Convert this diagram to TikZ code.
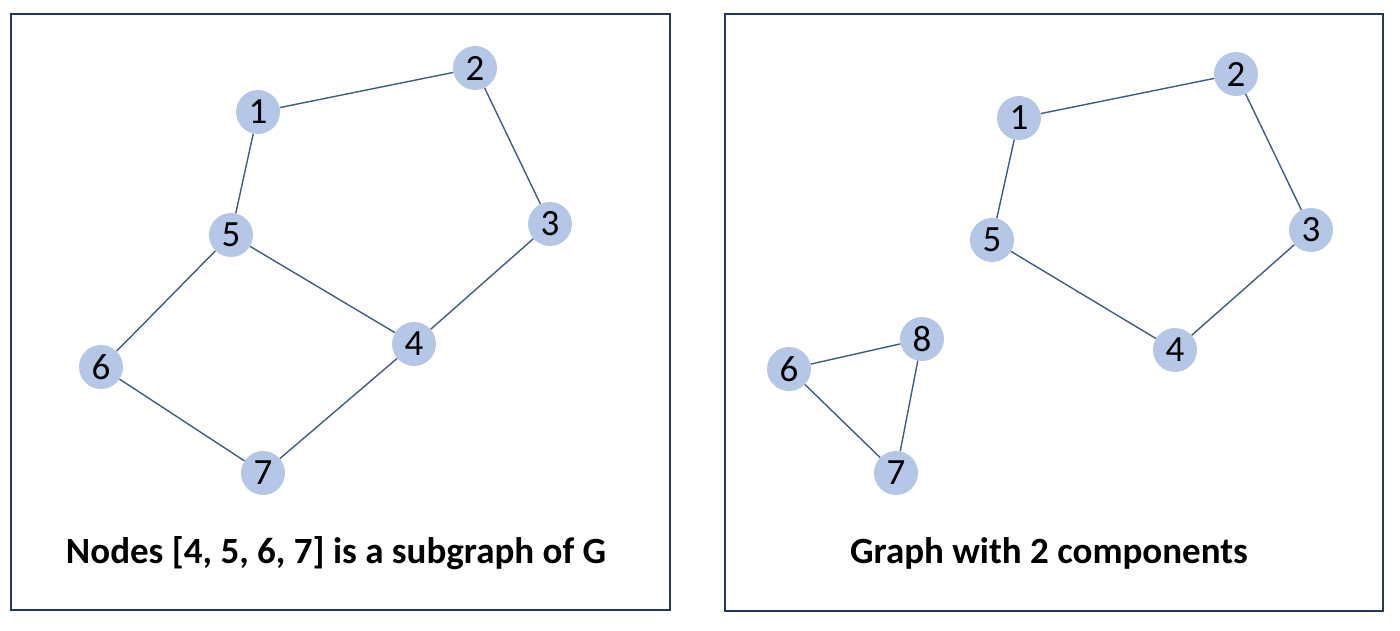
\documentclass[tikz,border=0pt]{standalone}
\usepackage{fontspec}
\setmainfont{Carlito}
\definecolor{navy}{HTML}{1F3864}
\definecolor{edgec}{HTML}{3E5C8A}
\definecolor{nodec}{HTML}{B4C7E7}
\tikzset{
  vert/.style={circle, fill=nodec, minimum size=44pt, inner sep=0pt, font=\fontsize{37}{37}\selectfont},
  frame/.style={draw=navy, line width=2pt},
  edge/.style={draw=edgec, line width=1.4pt},
  caption/.style={font=\fontsize{37}{37}\selectfont\bfseries}
}
\begin{document}
\begin{tikzpicture}[x=1pt,y=-1pt]
\useasboundingbox (0,0) rectangle (1400,631);
\draw[frame] (10.5,14) rectangle (669.5,610);
\draw[frame] (725,14) rectangle (1383,611);
% left graph
\node[vert] (a1) at (258,112) {1};
\node[vert] (a2) at (475,68) {2};
\node[vert] (a3) at (550,224) {3};
\node[vert] (a5) at (231,235) {5};
\node[vert] (a4) at (414,344) {4};
\node[vert] (a6) at (101,367) {6};
\node[vert] (a7) at (263,473) {7};
\draw[edge] (a1) -- (a2);
\draw[edge] (a2) -- (a3);
\draw[edge] (a3) -- (a4);
\draw[edge] (a1) -- (a5);
\draw[edge] (a5) -- (a4);
\draw[edge] (a5) -- (a6);
\draw[edge] (a6) -- (a7);
\draw[edge] (a7) -- (a4);
\node[caption] (capa) at (336,553) {Nodes [4, 5, 6, 7] is a subgraph of G};
% right graph
\node[vert] (b1) at (1019,118) {1};
\node[vert] (b2) at (1236,74) {2};
\node[vert] (b3) at (1311,230) {3};
\node[vert] (b5) at (992,240) {5};
\node[vert] (b4) at (1175,350) {4};
\node[vert] (b6) at (789,369) {6};
\node[vert] (b8) at (922,339) {8};
\node[vert] (b7) at (896,473) {7};
\draw[edge] (b1) -- (b2);
\draw[edge] (b2) -- (b3);
\draw[edge] (b3) -- (b4);
\draw[edge] (b1) -- (b5);
\draw[edge] (b5) -- (b4);
\draw[edge] (b6) -- (b8);
\draw[edge] (b8) -- (b7);
\draw[edge] (b6) -- (b7);
\node[caption] (capb) at (1049,553) {Graph with 2 components};
\end{tikzpicture}
\end{document}
